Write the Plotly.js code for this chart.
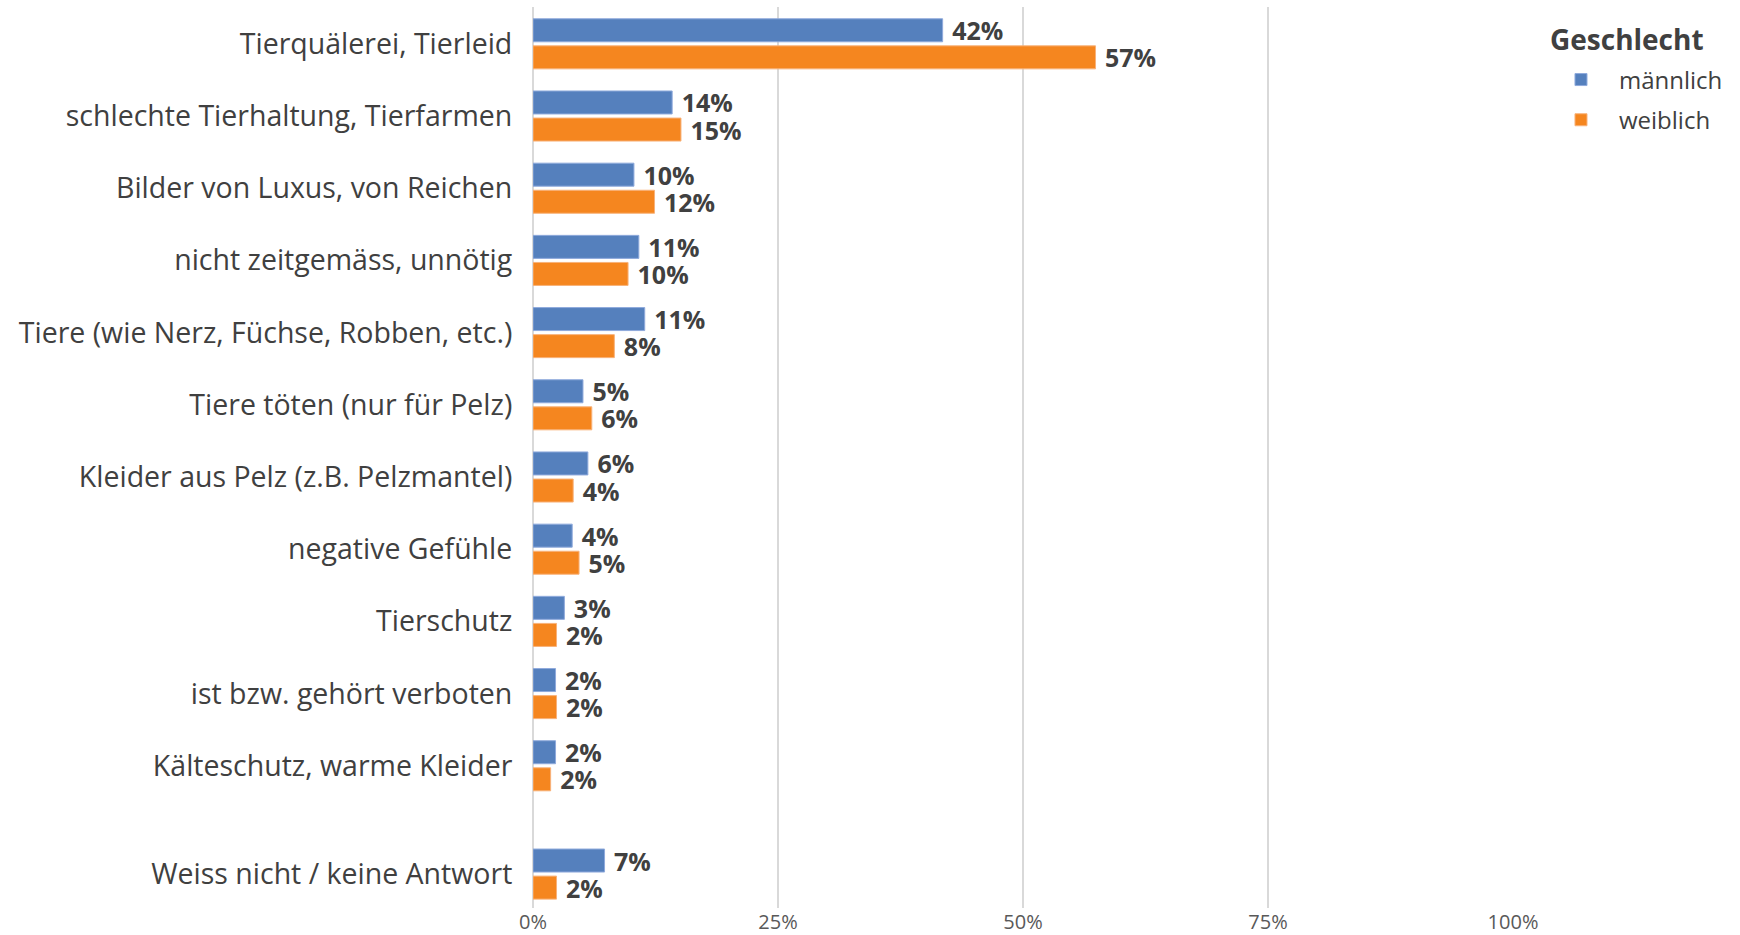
<!DOCTYPE html>
<html>
<head>
<meta charset="utf-8">
<script src="https://cdn.plot.ly/plotly-3.0.1.min.js"></script>
<style>
  html, body { margin: 0; padding: 0; background: #fff; }
  #myPlot { width: 1740px; height: 935px; }
</style>
</head>
<body>
<div id="myPlot"></div>
<script>
// answers, top to bottom
var categories = [
  "Tierquälerei, Tierleid",
  "schlechte Tierhaltung, Tierfarmen",
  "Bilder von Luxus, von Reichen",
  "nicht zeitgemäss, unnötig",
  "Tiere (wie Nerz, Füchse, Robben, etc.)",
  "Tiere töten (nur für Pelz)",
  "Kleider aus Pelz (z.B. Pelzmantel)",
  "negative Gefühle",
  "Tierschutz",
  "ist bzw. gehört verboten",
  "Kälteschutz, warme Kleider",
  "Weiss nicht / keine Antwort"
];

// percent values
var maennlich = [41.8, 14.2, 10.3, 10.8, 11.4, 5.1, 5.6, 4.0, 3.2, 2.3, 2.3, 7.3];
var weiblich  = [57.4, 15.1, 12.4, 9.7, 8.3, 6.0, 4.1, 4.7, 2.4, 2.4, 1.8, 2.4];

var xTicks = [0, 25, 50, 75, 100];
var xTickLabels = ["0%", "25%", "50%", "75%", "100%"];

// row positions, last row ("weiss nicht") set a bit apart
var ypos = [];
for (var i = 0; i < categories.length; i++) {
  ypos.push(i == categories.length - 1 ? i + 0.5 : i);
}

var labelFont = {family: "Open Sans, Noto Sans, sans-serif", size: 25, color: "#404040"};

var data = [
  {
    type: "bar", orientation: "h", name: "männlich", legendgroup: "m",
    x: maennlich, y: ypos,
    marker: {color: "#5580BD", line: {color: "#8FAADC", width: 1}},
    texttemplate: " <b>%{x:.0f}%</b>", textposition: "outside",
    constraintext: "none", cliponaxis: false,
    textfont: labelFont, hoverinfo: "x+name"
  },
  {
    type: "bar", orientation: "h", name: "weiblich", legendgroup: "w",
    x: weiblich, y: ypos,
    marker: {color: "#F5861F", line: {color: "#F8B27A", width: 1}},
    texttemplate: " <b>%{x:.0f}%</b>", textposition: "outside",
    constraintext: "none", cliponaxis: false,
    textfont: labelFont, hoverinfo: "x+name"
  }
];

var layout = {
  width: 1740, height: 935,
  margin: {l: 533, r: 227, t: 7, b: 27},
  paper_bgcolor: "#fff", plot_bgcolor: "#fff",
  barmode: "group", bargap: 0.25, bargroupgap: 0.15,
  font: {family: "Open Sans, Noto Sans, sans-serif", color: "#404040"},
  xaxis: {
    range: [0, 100], tickvals: xTicks, ticktext: xTickLabels,
    showgrid: true, gridcolor: "#D9D9D9", gridwidth: 1.5,
    zeroline: true, zerolinecolor: "#D9D9D9", zerolinewidth: 2,
    tickfont: {size: 20, color: "#595959"}, ticks: "", fixedrange: true
  },
  yaxis: {
    range: [11.97, -0.51], tickvals: ypos, ticktext: categories,
    showgrid: false, zeroline: false, ticks: "outside", ticklen: 14, tickcolor: "rgba(0,0,0,0)",
    tickfont: {size: 28.5, color: "#404040"}, fixedrange: true
  },
  // legend title drawn as annotation so the gap to the items matches
  annotations: [{
    text: "<b>Geschlecht</b>", xref: "paper", yref: "paper",
    x: 1.0357, y: 0.9645, xanchor: "left", yanchor: "middle",
    showarrow: false, font: {size: 28, color: "#404040"}
  }],
  legend: {
    x: 1.0306, xanchor: "left", y: 0.944, yanchor: "top",
    font: {size: 24, color: "#404040"},
    itemwidth: 66, tracegroupgap: 6, traceorder: "grouped"
  },
  showlegend: true
};

Plotly.newPlot("myPlot", data, layout, {displayModeBar: false, staticPlot: true});
</script>
</body>
</html>
